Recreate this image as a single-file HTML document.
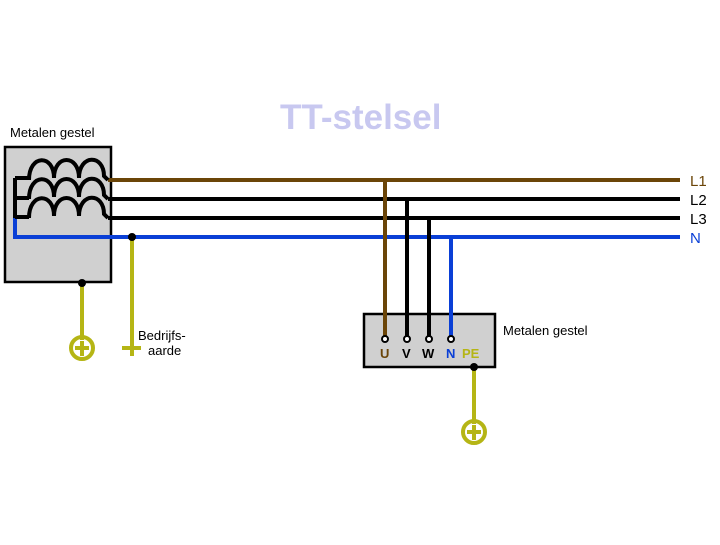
<!DOCTYPE html>
<html><head><style>body{margin:0;background:#fff}</style></head><body>
<svg width="720" height="540" xmlns="http://www.w3.org/2000/svg" font-family="Liberation Sans, sans-serif">
<rect width="720" height="540" fill="#fff"/>
<text x="280" y="129" font-size="35" font-weight="bold" fill="#c8c8f0">TT-stelsel</text>
<text x="10" y="137" font-size="13">Metalen gestel</text>
<rect x="5" y="147" width="106" height="135" fill="#d0d0d0" stroke="#000" stroke-width="2.5"/>
<g fill="none" stroke-width="4">
<path d="M108 180 L680 180" stroke="#6b4508"/>
<path d="M108 199 L680 199 M108 218 L680 218" stroke="#000"/>
<path d="M15 218 L15 237 L680 237" stroke="#0a3fd6"/>
<path d="M15 218 L15 178 M15 178 L29 178 M15 198 L29 198 M15 217 L29 217" stroke="#000"/>
<g stroke="#000">
<path d="M29 180 C29 154 54 154 54 178 C54 154 79 154 79 178 C79 154 104 154 104 176 L108 180"/>
<path d="M29 199 C29 173 54 173 54 197 C54 173 79 173 79 197 C79 173 104 173 104 195 L108 199"/>
<path d="M29 218 C29 192 54 192 54 216 C54 192 79 192 79 216 C79 192 104 192 104 214 L108 218"/>
</g>
<g stroke="#b5b515">
<path d="M82 283 L82 340"/>
<circle cx="82" cy="348" r="11"/>
<path d="M75 348 L89 348 M82 341 L82 356"/>
<path d="M132 237 L132 356 M122 348 L141 348"/>
<path d="M474 367 L474 424"/>
<circle cx="474" cy="432" r="11"/>
<path d="M467 432 L481 432 M474 425 L474 440"/>
</g>
</g>
<circle cx="82" cy="283" r="4"/>
<circle cx="132" cy="237" r="4"/>
<rect x="364" y="314" width="131" height="53" fill="#d0d0d0" stroke="#000" stroke-width="2.5"/>
<g fill="none" stroke-width="4">
<path d="M385 180 L385 336" stroke="#6b4508"/>
<path d="M407 199 L407 336 M429 218 L429 336" stroke="#000"/>
<path d="M451 237 L451 336" stroke="#0a3fd6"/>
</g>
<g fill="#fff" stroke="#000" stroke-width="2">
<circle cx="385" cy="339" r="3"/><circle cx="407" cy="339" r="3"/><circle cx="429" cy="339" r="3"/><circle cx="451" cy="339" r="3"/>
</g>
<circle cx="474" cy="367" r="4"/>
<g font-size="13" font-weight="bold">
<text x="380" y="358" fill="#6b4508">U</text>
<text x="402" y="358">V</text>
<text x="422" y="358">W</text>
<text x="446" y="358" fill="#0a3fd6">N</text>
<text x="462" y="358" fill="#b5b515">PE</text>
</g>
<g font-size="13">
<text x="503" y="335">Metalen gestel</text>
<text x="138" y="340">Bedrijfs-</text>
<text x="148" y="355">aarde</text>
</g>
<g font-size="15">
<text x="690" y="186" fill="#6b4508">L1</text>
<text x="690" y="205">L2</text>
<text x="690" y="224">L3</text>
<text x="690" y="243" fill="#0a3fd6">N</text>
</g>
</svg>
</body></html>
